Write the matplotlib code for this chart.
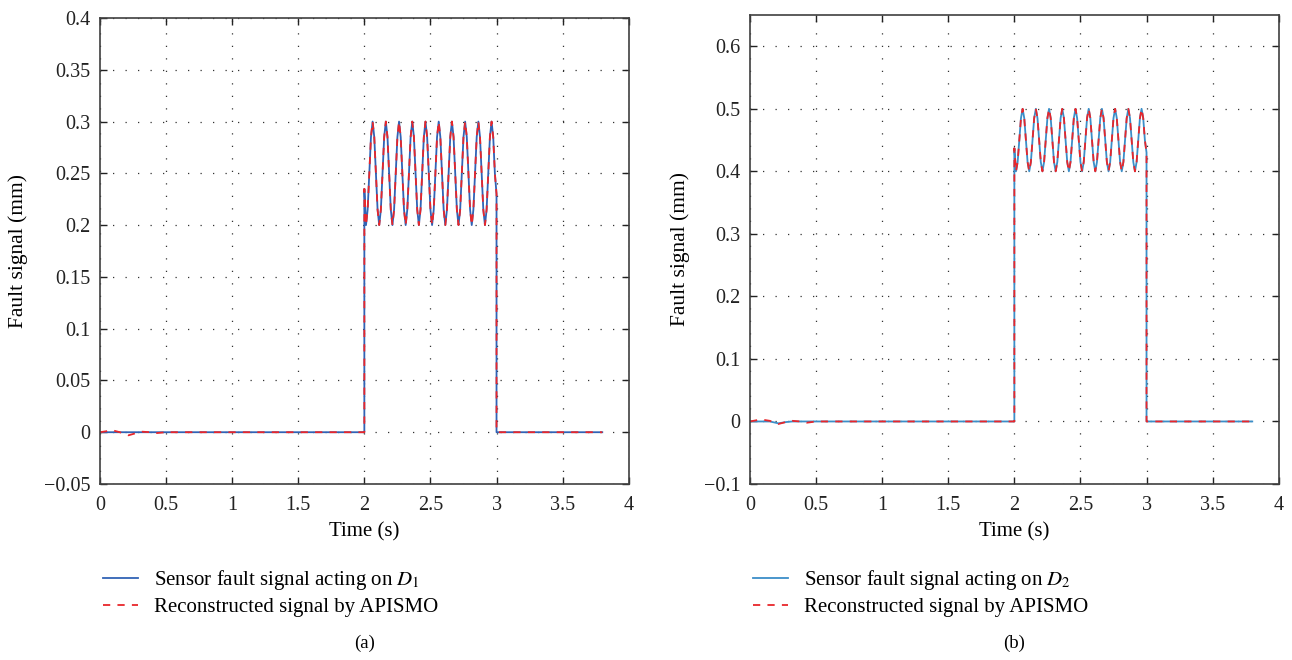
import numpy as np
import matplotlib
matplotlib.use("Agg")
import matplotlib.pyplot as plt
from matplotlib.lines import Line2D
from matplotlib.ticker import FuncFormatter

plt.rcParams['font.family'] = ['Liberation Serif', 'DejaVu Serif']
plt.rcParams['mathtext.fontset'] = 'stix'

# ---------------- data ----------------
# time samples of the pre-fault part (s)
t_pre = [0.0, 0.05, 0.09, 0.15, 0.215, 0.27, 0.32, 0.38, 0.43, 0.5, 2.0]
sensor_pre_a = [0, 0, 0, 0, 0, 0, 0, 0, 0, 0, 0]
recon_pre_a = [0, 0.001, 0.002, 0.0, -0.003, -0.001, 0.0005, 0.0, -0.0008, 0, 0]
sensor_pre_b = [0, 0, 0, 0, -0.003, -0.001, 0, 0, 0, 0, 0]
recon_pre_b = [0, 0.002, 0.003, 0.001, -0.004, -0.001, 0.001, 0.0, -0.002, 0, 0]

# fault window 2 s .. 3 s, sampled every 0.0125 s
fault_start, fault_end, fault_n = 2.0, 3.0, 81
sensor_fault_a = [0.235,
    0.200, 0.215, 0.250, 0.285, 0.300, 0.285, 0.250, 0.215,
    0.200, 0.215, 0.250, 0.285, 0.300, 0.285, 0.250, 0.215,
    0.200, 0.215, 0.250, 0.285, 0.300, 0.285, 0.250, 0.215,
    0.200, 0.215, 0.250, 0.285, 0.300, 0.285, 0.250, 0.215,
    0.200, 0.215, 0.250, 0.285, 0.300, 0.285, 0.250, 0.215,
    0.200, 0.215, 0.250, 0.285, 0.300, 0.285, 0.250, 0.215,
    0.200, 0.215, 0.250, 0.285, 0.300, 0.285, 0.250, 0.215,
    0.200, 0.215, 0.250, 0.285, 0.300, 0.285, 0.250, 0.215,
    0.200, 0.215, 0.250, 0.285, 0.300, 0.285, 0.250, 0.215,
    0.200, 0.215, 0.250, 0.285, 0.300, 0.285, 0.250, 0.230]
recon_fault_a = sensor_fault_a  # reconstruction overlaps the sensor fault
sensor_fault_b = [0.437,
    0.400, 0.415, 0.450, 0.485, 0.500, 0.485, 0.450, 0.415,
    0.400, 0.415, 0.450, 0.485, 0.500, 0.485, 0.450, 0.415,
    0.400, 0.415, 0.450, 0.485, 0.500, 0.485, 0.450, 0.415,
    0.400, 0.415, 0.450, 0.485, 0.500, 0.485, 0.450, 0.415,
    0.400, 0.415, 0.450, 0.485, 0.500, 0.485, 0.450, 0.415,
    0.400, 0.415, 0.450, 0.485, 0.500, 0.485, 0.450, 0.415,
    0.400, 0.415, 0.450, 0.485, 0.500, 0.485, 0.450, 0.415,
    0.400, 0.415, 0.450, 0.485, 0.500, 0.485, 0.450, 0.415,
    0.400, 0.415, 0.450, 0.485, 0.500, 0.485, 0.450, 0.415,
    0.400, 0.415, 0.450, 0.485, 0.500, 0.485, 0.450, 0.430]
recon_fault_b = sensor_fault_b

# post-fault part
t_post = [3.0, 3.8]
post_vals = [0, 0]

x_ticks = [0, 0.5, 1, 1.5, 2, 2.5, 3, 3.5, 4]
x_ticklabels = ['0', '0.5', '1', '1.5', '2', '2.5', '3', '3.5', '4']
y_ticks_a = [-0.05, 0, 0.05, 0.1, 0.15, 0.2, 0.25, 0.3, 0.35, 0.4]
y_ticks_b = [-0.1, 0, 0.1, 0.2, 0.3, 0.4, 0.5, 0.6]
labels_a = ['Sensor fault signal acting on $D_1$', 'Reconstructed signal by APISMO']
labels_b = ['Sensor fault signal acting on $D_2$', 'Reconstructed signal by APISMO']
captions = ['(a)', '(b)']

# ---------------- drawing ----------------
W, H = 1292, 660
fig = plt.figure(figsize=(W / 100, H / 100), dpi=100)

def ax_rect(l, t, r, b):
    return [l / W, 1 - b / H, (r - l) / W, (b - t) / H]

ax_a = fig.add_axes(ax_rect(100, 18, 628.7, 484))
ax_b = fig.add_axes(ax_rect(750, 15, 1278.7, 484))

t_fault = np.linspace(fault_start, fault_end, fault_n)

def series(pre, fault, post):
    t = np.concatenate([t_pre, t_fault, t_post])
    y = np.concatenate([pre, fault, post])
    return t, y

fmt = FuncFormatter(lambda v, p: ('%g' % round(v, 4)).replace('-', '\u2212'))

RED = '#e8262b'

def style(ax, yticks, ylim, col_blue, sens, rec, labels, caption, ylab_x):
    ts, ys = sens
    tr, yr = rec
    ax.plot(ts, ys, color=col_blue, lw=1.3, solid_joinstyle='round')
    ax.plot(tr, yr, color=RED, lw=1.3, linestyle=(0, (4, 4)))
    ax.set_xlim(0, 4)
    ax.set_ylim(*ylim)
    ax.set_xticks(x_ticks)
    ax.set_xticklabels(x_ticklabels)
    ax.set_yticks(yticks)
    ax.yaxis.set_major_formatter(fmt)
    ax.tick_params(direction='in', top=True, right=True, length=5,
                   width=1.0, labelsize=14.5, colors='#222222')
    ax.tick_params(axis='x', pad=9)
    ax.tick_params(axis='y', pad=7)
    ax.grid(True, color='#333333', linestyle=(0, (1, 9)), lw=0.9)
    for s in ax.spines.values():
        s.set_color('#404040')
        s.set_linewidth(1.2)
    ax.set_xlabel('Time (s)', fontsize=15, labelpad=5)
    ax.set_ylabel('Fault signal (mm)', fontsize=15.5, va='center')
    ax.yaxis.set_label_coords(ylab_x, 0.5)
    handles = [Line2D([], [], color=col_blue, lw=1.3),
               Line2D([], [], color=RED, lw=1.3, linestyle=(0, (4, 4)))]
    pos = ax.get_position()
    fig.legend(handles, labels, loc='upper left',
               bbox_to_anchor=(pos.x0 + 3 / W, 1 - 568 / H),
               frameon=False, fontsize=15, handlelength=1.7,
               handletextpad=0.75, labelspacing=0.25, borderaxespad=0,
               borderpad=0)
    fig.text(pos.x0 + pos.width / 2, 1 - 643 / H, caption,
             ha='center', va='center', fontsize=13.5)

style(ax_a, y_ticks_a, (-0.05, 0.4), '#3163b5',
      series(sensor_pre_a, sensor_fault_a, post_vals),
      series(recon_pre_a, recon_fault_a, post_vals),
      labels_a, captions[0], (18 - 100) / 528.7)
style(ax_b, y_ticks_b, (-0.1, 0.65), '#3b8ec8',
      series(sensor_pre_b, sensor_fault_b, post_vals),
      series(recon_pre_b, recon_fault_b, post_vals),
      labels_b, captions[1], (680 - 750) / 528.7)

fig.savefig('out.png', dpi=100)
